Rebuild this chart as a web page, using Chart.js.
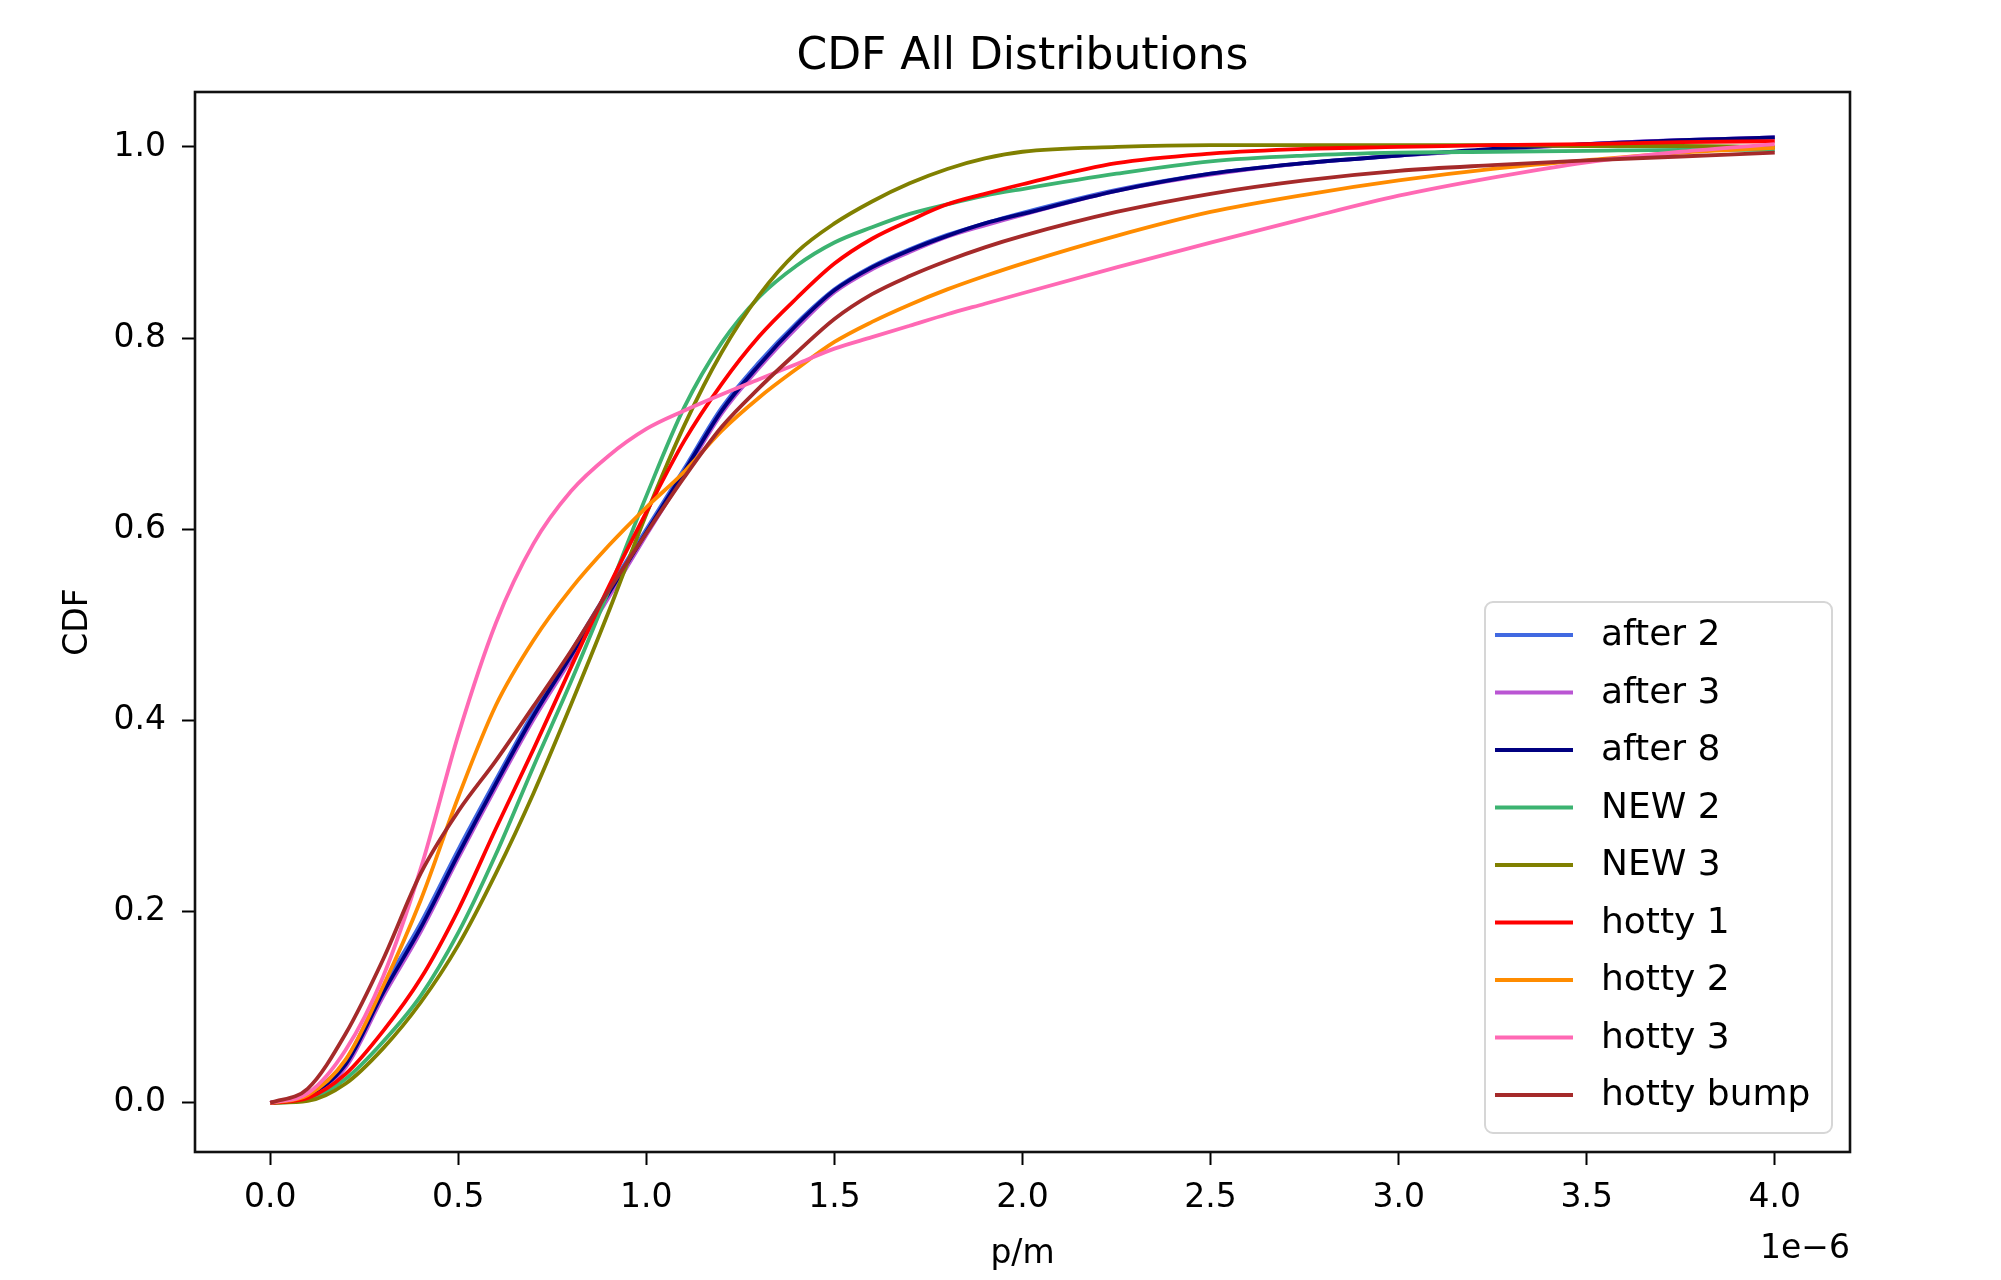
<!DOCTYPE html>
<html>
<head>
<meta charset="utf-8">
<title>CDF All Distributions</title>
<script src="https://cdn.jsdelivr.net/npm/chart.js@4.4.0/dist/chart.umd.min.js"></script>
<style>
  html, body { margin: 0; padding: 0; background: #fff; }
  #wrap { width: 2001px; height: 1280px; }
</style>
</head>
<body>
<div id="wrap"><canvas id="cdfChart" width="2001" height="1280"></canvas></div>
<script>
// x in units of 1e-6 (p/m)
const xValues = [0, 0.1, 0.2, 0.3, 0.4, 0.5, 0.6, 0.7, 0.8, 0.9, 1.0, 1.1, 1.2, 1.3, 1.4, 1.5, 1.6, 1.7, 1.8, 1.9, 2.0, 2.25, 2.5, 2.75, 3.0, 3.25, 3.5, 3.75, 4.0];

const after2 = [0, 0.010, 0.044, 0.120, 0.188, 0.265, 0.338, 0.409, 0.472, 0.537, 0.600, 0.663, 0.727, 0.775, 0.816, 0.851, 0.875, 0.893, 0.908, 0.920, 0.931, 0.955, 0.972, 0.983, 0.991, 0.997, 1.003, 1.007, 1.010];
const after3 = [0, 0.007, 0.037, 0.111, 0.179, 0.256, 0.330, 0.401, 0.464, 0.529, 0.594, 0.657, 0.721, 0.769, 0.811, 0.848, 0.872, 0.890, 0.906, 0.918, 0.929, 0.954, 0.971, 0.983, 0.991, 0.997, 1.003, 1.007, 1.010];
const after8 = [0, 0.008, 0.040, 0.115, 0.183, 0.260, 0.334, 0.405, 0.468, 0.533, 0.597, 0.660, 0.724, 0.772, 0.814, 0.850, 0.874, 0.892, 0.907, 0.920, 0.930, 0.954, 0.972, 0.983, 0.991, 0.998, 1.003, 1.007, 1.010];
const new2 = [0, 0.003, 0.025, 0.064, 0.112, 0.178, 0.260, 0.352, 0.441, 0.536, 0.635, 0.727, 0.795, 0.843, 0.876, 0.900, 0.916, 0.930, 0.940, 0.949, 0.956, 0.972, 0.985, 0.991, 0.994, 0.995, 0.996, 0.997, 0.997];
const new3 = [0, 0.002, 0.020, 0.057, 0.105, 0.165, 0.240, 0.324, 0.417, 0.514, 0.616, 0.708, 0.785, 0.845, 0.890, 0.920, 0.943, 0.962, 0.977, 0.988, 0.995, 1.000, 1.002, 1.002, 1.002, 1.002, 1.001, 1.001, 1.000];
const hotty1 = [0, 0.005, 0.030, 0.075, 0.130, 0.202, 0.287, 0.370, 0.456, 0.540, 0.618, 0.692, 0.752, 0.802, 0.842, 0.878, 0.904, 0.923, 0.940, 0.951, 0.961, 0.983, 0.993, 0.998, 1.000, 1.002, 1.003, 1.005, 1.006];
const hotty2 = [0, 0.008, 0.045, 0.122, 0.212, 0.320, 0.416, 0.484, 0.538, 0.583, 0.623, 0.660, 0.703, 0.738, 0.768, 0.796, 0.817, 0.835, 0.851, 0.865, 0.878, 0.907, 0.932, 0.950, 0.965, 0.977, 0.986, 0.994, 0.999];
const hotty3 = [0, 0.010, 0.055, 0.132, 0.245, 0.385, 0.502, 0.585, 0.640, 0.677, 0.705, 0.724, 0.741, 0.757, 0.773, 0.789, 0.801, 0.813, 0.825, 0.836, 0.847, 0.874, 0.900, 0.925, 0.949, 0.968, 0.984, 0.995, 1.003];
const hottyBump = [0, 0.015, 0.072, 0.150, 0.240, 0.305, 0.358, 0.415, 0.473, 0.536, 0.596, 0.654, 0.707, 0.748, 0.785, 0.820, 0.846, 0.865, 0.881, 0.895, 0.907, 0.932, 0.951, 0.965, 0.975, 0.981, 0.986, 0.990, 0.994];

const seriesNames = ["after 2", "after 3", "after 8", "NEW 2", "NEW 3", "hotty 1", "hotty 2", "hotty 3", "hotty bump"];
const seriesValues = [after2, after3, after8, new2, new3, hotty1, hotty2, hotty3, hottyBump];
const seriesColors = ["#4169e1", "#ba55d3", "#000080", "#3cb371", "#808000", "#ff0000", "#ff8c00", "#ff69b4", "#a52a2a"];

const xTicks = [0, 0.5, 1.0, 1.5, 2.0, 2.5, 3.0, 3.5, 4.0];
const yTicks = [0, 0.2, 0.4, 0.6, 0.8, 1.0];
const xOffsetText = "1e\u22126";

const FONT = "'DejaVu Sans', 'Liberation Sans', sans-serif";
Chart.defaults.font.family = FONT;
Chart.defaults.color = "#000";

// box around the axes, the offset text and the legend in the lower right
const axesExtras = {
    id: "axesExtras",
    afterDatasetsDraw(chart) {
        const ctx = chart.ctx;
        const a = chart.chartArea;
        ctx.save();
        ctx.strokeStyle = "#111";
        ctx.lineWidth = 2.6;
        ctx.strokeRect(a.left, a.top, a.right - a.left, a.bottom - a.top);
        ctx.restore();
    },
    afterDraw(chart) {
        const ctx = chart.ctx;
        const a = chart.chartArea;
        ctx.save();
        ctx.font = "33px " + FONT;
        ctx.fillStyle = "#000";
        ctx.textAlign = "right";
        ctx.textBaseline = "middle";
        ctx.fillText(xOffsetText, a.right, a.bottom + 97);

        // legend
        const right = a.right - 18, bottom = a.bottom - 19;
        const w = 347, h = 531;
        const left = right - w, top = bottom - h;
        ctx.beginPath();
        ctx.roundRect(left, top, w, h, 8);
        ctx.fillStyle = "rgba(255,255,255,0.8)";
        ctx.fill();
        ctx.strokeStyle = "#d6d6d6";
        ctx.lineWidth = 2;
        ctx.stroke();

        ctx.font = "36px " + FONT;
        ctx.textAlign = "left";
        chart.data.datasets.forEach((ds, i) => {
            const y = top + 33 + i * 57.5;
            ctx.strokeStyle = ds.borderColor;
            ctx.lineWidth = ds.borderWidth;
            ctx.beginPath();
            ctx.moveTo(left + 10, y);
            ctx.lineTo(left + 88, y);
            ctx.stroke();
            ctx.fillStyle = "#000";
            ctx.fillText(ds.label, left + 116, y + 1);
        });
        ctx.restore();
    }
};

const datasets = seriesNames.map((name, i) => ({
    label: name,
    data: xValues.map((x, j) => ({ x: x, y: seriesValues[i][j] })),
    borderColor: seriesColors[i],
    backgroundColor: seriesColors[i],
    borderWidth: 3.8,
    pointRadius: 0,
    fill: false,
    cubicInterpolationMode: "monotone",
    order: seriesNames.length - i   // later series on top, like matplotlib
}));

new Chart(document.getElementById("cdfChart").getContext("2d"), {
    type: "line",
    data: { datasets: datasets },
    options: {
        responsive: false,
        animation: false,
        events: [],
        layout: { padding: { left: 0, right: 151, top: 0, bottom: 0 } },
        plugins: {
            legend: { display: false },
            tooltip: { enabled: false },
            title: {
                display: true,
                text: "CDF All Distributions",
                fullSize: false,
                color: "#000",
                font: { size: 44, weight: "normal" },
                padding: { top: 31, bottom: 8.2 }
            }
        },
        scales: {
            x: {
                type: "linear",
                min: -0.2,
                max: 4.2,
                afterBuildTicks: s => { s.ticks = xTicks.map(v => ({ value: v })); },
                afterFit: s => { s.height = 128; },
                ticks: {
                    font: { size: 33 },
                    color: "#000",
                    padding: 14,
                    maxRotation: 0,
                    autoSkip: false,
                    callback: v => Number(v).toFixed(1)
                },
                grid: { display: true, drawOnChartArea: false, drawTicks: true, tickLength: 13, tickWidth: 2, tickColor: "#000" },
                border: { display: false },
                title: { display: true, text: "p/m", color: "#000", font: { size: 33 }, padding: { top: 0, bottom: 6 } }
            },
            y: {
                type: "linear",
                min: -0.0514,
                max: 1.0575,
                afterBuildTicks: s => { s.ticks = yTicks.map(v => ({ value: v })); },
                afterFit: s => { s.width = 195; },
                ticks: {
                    font: { size: 33 },
                    color: "#000",
                    padding: 16,
                    callback: v => Number(v).toFixed(1)
                },
                grid: { display: true, drawOnChartArea: false, drawTicks: true, tickLength: 13, tickWidth: 2, tickColor: "#000" },
                border: { display: false },
                title: { display: true, text: "CDF", color: "#000", font: { size: 33 }, padding: { top: 59, bottom: 0 } }
            }
        }
    },
    plugins: [axesExtras]
});
</script>
</body>
</html>
